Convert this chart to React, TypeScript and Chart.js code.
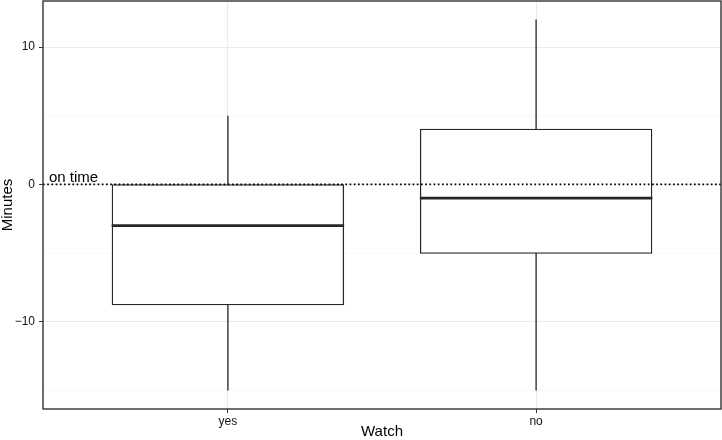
import React, { useEffect, useRef } from 'react';
import { Chart, registerables } from 'chart.js';

Chart.register(...registerables);

const categories = ['yes', 'no'];
const whiskerLow = [-15, -15];
const q1 = [-8.75, -5];
const median = [-3, -1];
const q3 = [0, 4];
const whiskerHigh = [5, 12];
const yMajorTicks = [-10, 0, 10];
const refLineValue = 0;
const refLineLabel = 'on time';
const xTitle = 'Watch';
const yTitle = 'Minutes';

const FONT = "'Liberation Sans', Arial, Helvetica, sans-serif";
const BOX_COLOR = '#262626';

const boxPlugin = {
  id: 'boxExtras',
  beforeDatasetsDraw(chart: any) {
    const { ctx } = chart;
    const xs = chart.scales.x;
    const ys = chart.scales.y;
    ctx.save();
    ctx.strokeStyle = BOX_COLOR;
    ctx.lineWidth = 1.3;
    categories.forEach((_, i) => {
      const x = xs.getPixelForValue(i + 1);
      ctx.beginPath();
      ctx.moveTo(x, ys.getPixelForValue(q3[i]));
      ctx.lineTo(x, ys.getPixelForValue(whiskerHigh[i]));
      ctx.moveTo(x, ys.getPixelForValue(q1[i]));
      ctx.lineTo(x, ys.getPixelForValue(whiskerLow[i]));
      ctx.stroke();
    });
    ctx.restore();
  },
  afterDatasetsDraw(chart: any) {
    const { ctx, chartArea } = chart;
    const ys = chart.scales.y;
    const meta = chart.getDatasetMeta(0);
    ctx.save();
    ctx.strokeStyle = BOX_COLOR;
    ctx.lineWidth = 2.6;
    meta.data.forEach((el: any, i: number) => {
      const y = ys.getPixelForValue(median[i]);
      ctx.beginPath();
      ctx.moveTo(el.x - el.width / 2 - 0.65, y);
      ctx.lineTo(el.x + el.width / 2 + 0.65, y);
      ctx.stroke();
    });
    // reference line
    const y0 = ys.getPixelForValue(refLineValue);
    ctx.strokeStyle = '#000';
    ctx.lineWidth = 1.7;
    ctx.setLineDash([1.7, 2.5]);
    ctx.beginPath();
    ctx.moveTo(chartArea.left, y0);
    ctx.lineTo(chartArea.right, y0);
    ctx.stroke();
    ctx.setLineDash([]);
    ctx.fillStyle = '#000';
    ctx.font = `15px ${FONT}`;
    ctx.textAlign = 'left';
    ctx.textBaseline = 'alphabetic';
    ctx.fillText(refLineLabel, chartArea.left + 6, y0 - 2);
    ctx.restore();
  },
  afterDraw(chart: any) {
    const { ctx, chartArea } = chart;
    ctx.save();
    ctx.strokeStyle = '#333333';
    ctx.lineWidth = 1.4;
    ctx.strokeRect(chartArea.left, chartArea.top, chartArea.right - chartArea.left, chartArea.bottom - chartArea.top);
    ctx.restore();
  },
};

export default function App() {
  const ref = useRef<HTMLCanvasElement>(null);
  useEffect(() => {
    if (!ref.current) return;
    const chart = new Chart(ref.current, {
      type: 'bar',
      data: {
        datasets: [
          {
            data: categories.map((_, i) => ({ x: i + 1, y: [q1[i], q3[i]] })) as any,
            backgroundColor: '#ffffff',
            borderColor: BOX_COLOR,
            borderWidth: 1.3,
            borderSkipped: false,
            inflateAmount: 0.65,
            barPercentage: 0.75,
            categoryPercentage: 1,
          },
        ],
      },
      options: {
        responsive: false,
        animation: false,
        layout: { padding: { top: 1, right: 1, left: 0, bottom: 0 } },
        plugins: { legend: { display: false }, tooltip: { enabled: false } },
        scales: {
          x: {
            type: 'linear',
            min: 0.4,
            max: 2.6,
            offset: false,
            afterBuildTicks: (axis: any) => {
              axis.ticks = categories.map((_, i) => ({ value: i + 1 }));
            },
            afterFit: (axis: any) => {
              axis.height = 31;
              axis.paddingLeft = 0;
              axis.paddingRight = 0;
            },
            ticks: {
              includeBounds: false,
              callback: (v: any) => categories[Number(v) - 1] ?? '',
              color: '#111',
              font: { family: FONT, size: 12 },
              padding: 1,
              maxRotation: 0,
              autoSkip: false,
            },
            grid: { offset: false, color: '#ebebeb', lineWidth: 1, tickLength: 4, tickColor: '#333333', drawTicks: true },
            border: { display: false },
            title: {
              display: true,
              text: xTitle,
              color: '#000',
              font: { family: FONT, size: 15, lineHeight: 1 },
              padding: { top: 0, bottom: 1 },
            },
          },
          y: {
            type: 'linear',
            min: -16.35,
            max: 13.35,
            afterFit: (axis: any) => {
              axis.width = 43;
              axis.paddingTop = 0;
              axis.paddingBottom = 0;
            },
            ticks: {
              stepSize: 5,
              includeBounds: false,
              callback: (v: any) => {
                const n = Number(v);
                if (!yMajorTicks.includes(n)) return '';
                return n < 0 ? '\u2212' + Math.abs(n) : String(n);
              },
              color: '#111',
              font: { family: FONT, size: 12 },
              padding: 4,
            },
            grid: {
              color: (c: any) => (yMajorTicks.includes(c.tick?.value) ? '#ebebeb' : '#f5f5f5'),
              lineWidth: (c: any) => (yMajorTicks.includes(c.tick?.value) ? 1 : 0.7),
              tickLength: 4,
              tickColor: (c: any) => (yMajorTicks.includes(c.tick?.value) ? '#333333' : 'rgba(0,0,0,0)'),
            },
            border: { display: false },
            title: {
              display: true,
              text: yTitle,
              color: '#000',
              font: { family: FONT, size: 15, lineHeight: 1 },
              padding: 0,
            },
          },
        },
      },
      plugins: [boxPlugin],
    } as any);
    return () => chart.destroy();
  }, []);
  return (
    <div style={{ position: 'fixed', left: 0, top: 0, width: 722, height: 440, background: '#fff' }}>
      <canvas ref={ref} width={722} height={440} />
    </div>
  );
}
